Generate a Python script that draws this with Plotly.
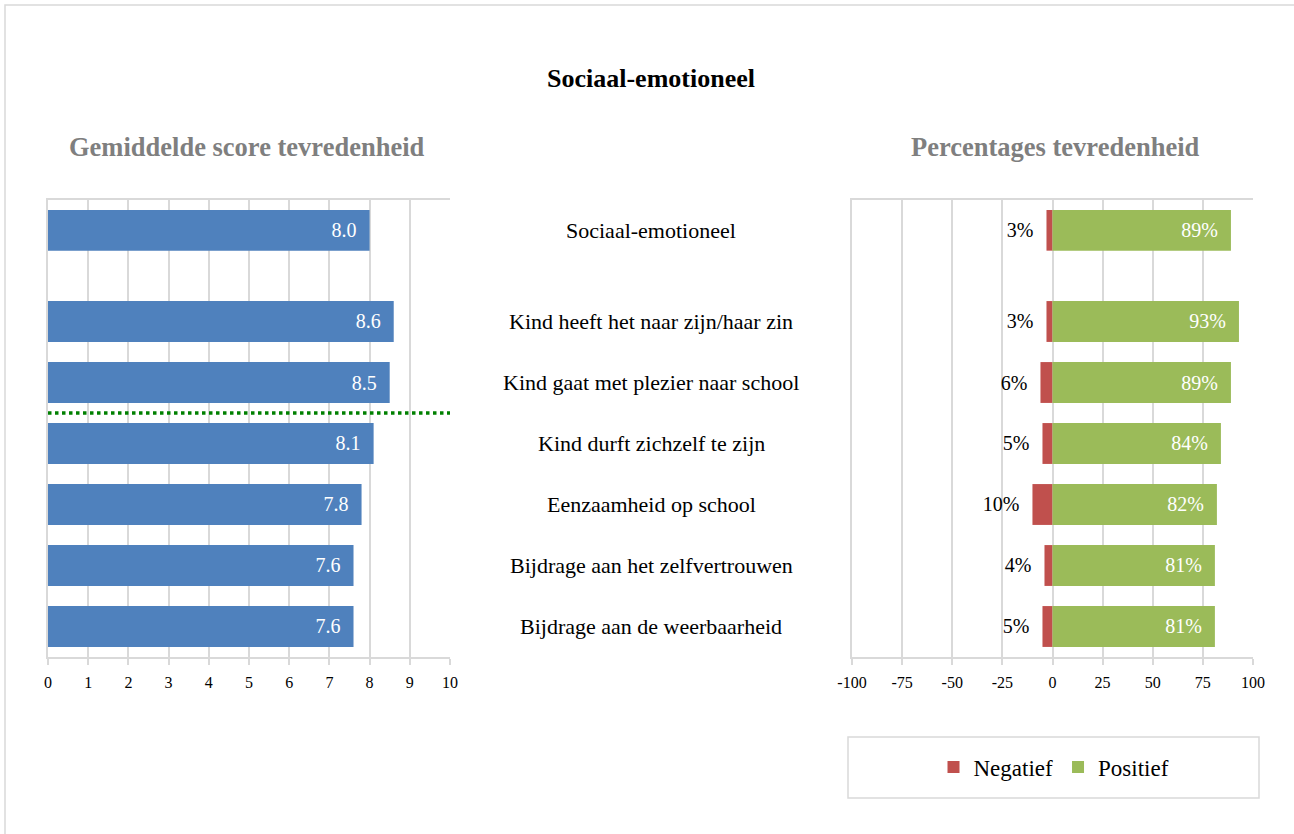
import plotly.graph_objects as go

W, H = 1294, 834

categories = [
    "Sociaal-emotioneel",
    "Kind heeft het naar zijn/haar zin",
    "Kind gaat met plezier naar school",
    "Kind durft zichzelf te zijn",
    "Eenzaamheid op school",
    "Bijdrage aan het zelfvertrouwen",
    "Bijdrage aan de weerbaarheid",
]
scores = [8.0, 8.6, 8.5, 8.1, 7.8, 7.6, 7.6]
negatief = [3, 3, 6, 5, 10, 4, 5]
positief = [89, 93, 89, 84, 82, 81, 81]
score_ticks = list(range(0, 11))
pct_ticks = [-100, -75, -50, -25, 0, 25, 50, 75, 100]
pct_ticktext = ["-100", "-75", "-50", "-25", "0", "25", "50", "75", "100"]

FONT = "Liberation Serif, Times New Roman, serif"
BLUE = "#4f81bd"
RED = "#c0504d"
GREEN = "#9bbb59"
GRID = "#d9d9d9"
PAD = "\u2002"

def px_x(p):
    return p / W

def px_y(p):
    return 1 - p / H

top_cats = categories[:1]
bot_cats = categories[1:]

# domains
LX = [px_x(48), px_x(450)]
RX = [px_x(852), px_x(1253)]
TOPY = [px_y(291), px_y(200)]
BOTY = [px_y(657), px_y(291)]

fig = go.Figure()

groups = [
    (slice(0, 1), "x", "y", "x3", "y3", True),
    (slice(1, None), "x2", "y2", "x4", "y4", False),
]
for sl, lx, ly, rx, ry, first in groups:
    cats = categories[sl]
    fig.add_trace(go.Bar(
        y=cats, x=scores[sl], orientation="h", xaxis=lx, yaxis=ly,
        marker=dict(color=BLUE, line=dict(width=0)), width=0.67,
        texttemplate="%{x:.1f}" + PAD, textposition="inside",
        insidetextanchor="end", constraintext="none",
        textfont=dict(family=FONT, size=20, color="white"),
        showlegend=False, hoverinfo="skip",
    ))
    fig.add_trace(go.Bar(
        y=cats, x=[-v for v in negatief[sl]], orientation="h", xaxis=rx, yaxis=ry,
        marker=dict(color=RED, line=dict(width=0)), width=0.67,
        customdata=negatief[sl],
        texttemplate="%{customdata}%" + PAD, textposition="outside",
        constraintext="none", cliponaxis=False,
        textfont=dict(family=FONT, size=20, color="black"),
        name="Negatief", legendgroup="neg", showlegend=first, hoverinfo="skip",
    ))
    fig.add_trace(go.Bar(
        y=cats, x=positief[sl], orientation="h", xaxis=rx, yaxis=ry,
        marker=dict(color=GREEN, line=dict(width=0)), width=0.67,
        texttemplate="%{x}%" + PAD, textposition="inside",
        insidetextanchor="end", constraintext="none",
        textfont=dict(family=FONT, size=20, color="white"),
        name="Positief", legendgroup="pos", showlegend=first, hoverinfo="skip",
    ))

xcommon = dict(showgrid=True, gridcolor=GRID, gridwidth=1.5, zeroline=False,
               showline=True, linecolor=GRID, linewidth=1.5, automargin=False,
               tickfont=dict(family=FONT, size=16, color="black"))
ycommon = dict(type="category", showticklabels=False, showgrid=False,
               zeroline=False, showline=True, linecolor=GRID, linewidth=1.5,
               side="left", ticks="", categoryorder="array", automargin=False)

fig.update_layout(
    template="none",
    width=W, height=H, autosize=False,
    margin=dict(l=0, r=0, t=0, b=0, pad=0, autoexpand=False),
    paper_bgcolor="white", plot_bgcolor="rgba(0,0,0,0)",
    barmode="overlay",
    font=dict(family=FONT, color="black"),
    xaxis=dict(domain=LX, anchor="y", range=[0, 10], tickvals=score_ticks,
               side="top", showticklabels=False, ticks="", **xcommon),
    yaxis=dict(domain=TOPY, anchor="x", range=[1.0, -0.5],
               categoryarray=top_cats, **ycommon),
    xaxis2=dict(domain=LX, anchor="y2", range=[0, 10], tickvals=score_ticks,
                ticks="outside", ticklen=6, tickcolor=GRID, tickwidth=1.5,
                ticklabelstandoff=4, **xcommon),
    yaxis2=dict(domain=BOTY, anchor="x2", range=[5.5, -0.5],
                categoryarray=bot_cats, **ycommon),
    xaxis3=dict(domain=RX, anchor="y3", range=[-100, 100], tickvals=pct_ticks,
                ticktext=pct_ticktext,
                side="top", showticklabels=False, ticks="", **xcommon),
    yaxis3=dict(domain=TOPY, anchor="x3", range=[1.0, -0.5],
                categoryarray=top_cats, **ycommon),
    xaxis4=dict(domain=RX, anchor="y4", range=[-100, 100], tickvals=pct_ticks,
                ticktext=pct_ticktext,
                ticks="outside", ticklen=6, tickcolor=GRID, tickwidth=1.5,
                ticklabelstandoff=4, **xcommon),
    yaxis4=dict(domain=BOTY, anchor="x4", range=[5.5, -0.5],
                categoryarray=bot_cats, **ycommon),
    legend=dict(orientation="h", x=px_x(1054), xanchor="center",
                y=px_y(767), yanchor="middle", bgcolor="rgba(0,0,0,0)",
                borderwidth=0, font=dict(family=FONT, size=23, color="black"),
                traceorder="normal"),
)

annotations = [
    dict(text="<b>Sociaal-emotioneel</b>", x=px_x(651), y=px_y(79),
         font=dict(size=26, color="black")),
    dict(text="<b>Gemiddelde score tevredenheid</b>", x=px_x(247), y=px_y(147),
         font=dict(size=26.5, color="#7f7f7f")),
    dict(text="<b>Percentages tevredenheid</b>", x=px_x(1055), y=px_y(147),
         font=dict(size=26.5, color="#7f7f7f")),
]
for a in annotations:
    a.update(xref="paper", yref="paper", xanchor="center", yanchor="middle",
             showarrow=False)
    a["font"]["family"] = FONT
for i, c in enumerate(categories):
    annotations.append(dict(
        text=c, xref="paper", x=px_x(651), yref="y" if i == 0 else "y2", y=c,
        xanchor="center", yanchor="middle", showarrow=False,
        font=dict(family=FONT, size=22, color="black"),
    ))
fig.update_layout(annotations=annotations)

shapes = [
    # outer chart border
    dict(type="rect", xref="paper", yref="paper", x0=px_x(5), x1=1.01,
         y0=-0.01, y1=px_y(5), line=dict(color=GRID, width=1.5)),
    # legend box
    dict(type="rect", xref="paper", yref="paper", x0=px_x(848), x1=px_x(1259),
         y0=px_y(798), y1=px_y(737), line=dict(color=GRID, width=1.5)),
    # dotted separator in left chart
    dict(type="line", xref="x2", yref="y2", x0=0, x1=10, y0=1.5, y1=1.5,
         line=dict(color="#008000", width=3.5, dash="dot")),
]
fig.update_layout(shapes=shapes)

fig.write_html("out.html")
